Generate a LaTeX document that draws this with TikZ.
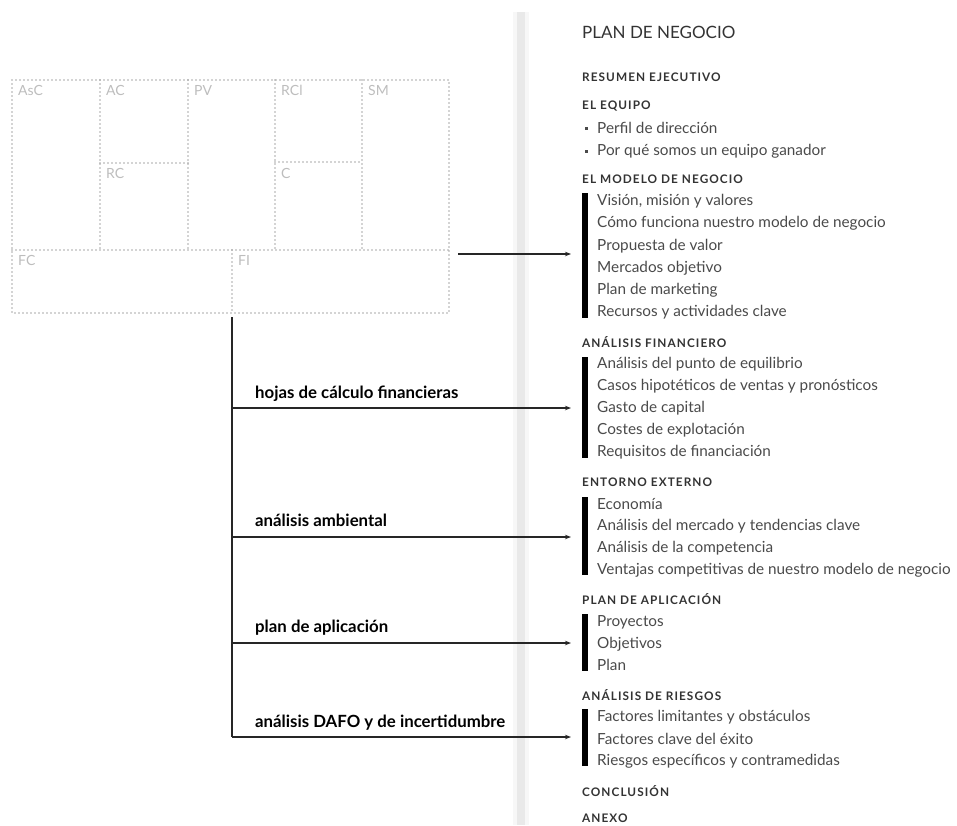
\documentclass[tikz,border=0pt]{standalone}
\usepackage{fontspec}
\setmainfont{Lato}
\setsansfont{Lato}
\newfontfamily\headfont[LetterSpace=9]{Lato}
\usetikzlibrary{arrows.meta}

\definecolor{itemgray}{HTML}{4A4A4A}
\definecolor{headgray}{HTML}{333333}
\definecolor{cellgray}{HTML}{A8A8A8}
\definecolor{celltext}{HTML}{BDBDBD}

\begin{document}
\begin{tikzpicture}[x=1pt,y=-1pt,
  cell/.style={draw=cellgray, line width=1.6pt, dash pattern=on 0pt off 4pt, line cap=round},
  cellname/.style={anchor=north west, inner sep=0pt, text=celltext, font=\fontsize{14}{14}\selectfont},
  link/.style={draw=black!85, line width=1.3pt, -{Stealth[length=6pt,width=4.5pt]}},
  trunk/.style={draw=black!85, line width=1.3pt},
  tool/.style={anchor=base west, inner sep=0pt, font=\bfseries\fontsize{16.8}{17}\selectfont},
  title/.style={anchor=west, inner sep=0pt, text=headgray, font=\fontsize{17}{17}\selectfont},
  section/.style={anchor=west, inner sep=0pt, text=headgray, font=\headfont\bfseries\fontsize{11.8}{12}\selectfont},
  entry/.style={anchor=west, inner sep=0pt, text=itemgray, font=\fontsize{15.3}{15}\selectfont},
  bar/.style={fill=black, draw=none},
  dot/.style={fill=itemgray, draw=none}
]
\useasboundingbox (0,0) rectangle (957,825);

% page spine
\fill[gray!6] (513,12) rectangle (529,825);
\fill[gray!17] (517,12) rectangle (525,825);

% business model canvas
\draw[cell] (12,80) rectangle (449,313);
\draw[cell] (12,250) -- (449,250);
\draw[cell] (100,80) -- (100,250);
\draw[cell] (188,80) -- (188,250);
\draw[cell] (275,80) -- (275,250);
\draw[cell] (362,80) -- (362,250);
\draw[cell] (100,163) -- (188,163);
\draw[cell] (275,162) -- (362,162);
\draw[cell] (232,250) -- (232,313);

\node[cellname] (asc) at (18,85) {AsC};
\node[cellname] (ac)  at (106,85) {AC};
\node[cellname] (pv)  at (194,85) {PV};
\node[cellname] (rcl) at (281,85) {RCl};
\node[cellname] (sm)  at (368,85) {SM};
\node[cellname] (rc)  at (106,168) {RC};
\node[cellname] (c)   at (281,168) {C};
\node[cellname] (fc)  at (18,255) {FC};
\node[cellname] (fi)  at (238,255) {FI};

% connectors
\coordinate (canvasout) at (458,254);
\coordinate (modelin) at (571,254);
\coordinate (trunktop) at (232,317);
\coordinate (b1) at (232,408);
\coordinate (b2) at (232,537);
\coordinate (b3) at (232,643);
\coordinate (b4) at (232,737);
\coordinate (e1) at (571,408);
\coordinate (e2) at (571,537);
\coordinate (e3) at (571,643);
\coordinate (e4) at (571,737);

\draw[link] (canvasout) -- (modelin);
\draw[trunk] (trunktop) -- (b4);
\draw[link] (b1) -- (e1);
\draw[link] (b2) -- (e2);
\draw[link] (b3) -- (e3);
\draw[link] (b4) -- (e4);

\node[tool] (t1) at (255,398) {hojas de cálculo financieras};
\node[tool] (t2) at (255,526) {análisis ambiental};
\node[tool] (t3) at (255,632) {plan de aplicación};
\node[tool] (t4) at (255,727) {análisis DAFO y de incertidumbre};

% business plan outline
\node[title] (plan) at (582,32) {PLAN DE NEGOCIO};

\node[section] (s0) at (582,77) {RESUMEN EJECUTIVO};

\node[section] (s1) at (582,106) {EL EQUIPO};
\fill[dot] (584.5,126.5) rectangle (587.5,129.5);
\fill[dot] (584.5,149.5) rectangle (587.5,152.5);
\node[entry] (i11) at (597,128) {Perfil de dirección};
\node[entry] (i12) at (597,151) {Por qué somos un equipo ganador};

\node[section] (s2) at (582,179) {EL MODELO DE NEGOCIO};
\fill[bar] (582,193) rectangle (588,318);
\node[entry] (i21) at (597,201) {Visión, misión y valores};
\node[entry] (i22) at (597,223) {Cómo funciona nuestro modelo de negocio};
\node[entry] (i23) at (597,246) {Propuesta de valor};
\node[entry] (i24) at (597,268) {Mercados objetivo};
\node[entry] (i25) at (597,290) {Plan de marketing};
\node[entry] (i26) at (597,312) {Recursos y actividades clave};

\node[section] (s3) at (582,342) {ANÁLISIS FINANCIERO};
\fill[bar] (582,357) rectangle (588,458);
\node[entry] (i31) at (597,364) {Análisis del punto de equilibrio};
\node[entry] (i32) at (597,386) {Casos hipotéticos de ventas y pronósticos};
\node[entry] (i33) at (597,408) {Gasto de capital};
\node[entry] (i34) at (597,430) {Costes de explotación};
\node[entry] (i35) at (597,452) {Requisitos de financiación};

\node[section] (s4) at (582,482) {ENTORNO EXTERNO};
\fill[bar] (582,497) rectangle (588,575);
\node[entry] (i41) at (597,504) {Economía};
\node[entry] (i42) at (597,526) {Análisis del mercado y tendencias clave};
\node[entry] (i43) at (597,548) {Análisis de la competencia};
\node[entry] (i44) at (597,570) {Ventajas competitivas de nuestro modelo de negocio};

\node[section] (s5) at (582,599) {PLAN DE APLICACIÓN};
\fill[bar] (582,614) rectangle (588,671);
\node[entry] (i51) at (597,622) {Proyectos};
\node[entry] (i52) at (597,644) {Objetivos};
\node[entry] (i53) at (597,665) {Plan};

\node[section] (s6) at (582,695) {ANÁLISIS DE RIESGOS};
\fill[bar] (582,709) rectangle (588,766);
\node[entry] (i61) at (597,717) {Factores limitantes y obstáculos};
\node[entry] (i62) at (597,739) {Factores clave del éxito};
\node[entry] (i63) at (597,761) {Riesgos específicos y contramedidas};

\node[section] (s7) at (582,791) {CONCLUSIÓN};
\node[section] (s8) at (582,818) {ANEXO};
\end{tikzpicture}
\end{document}
